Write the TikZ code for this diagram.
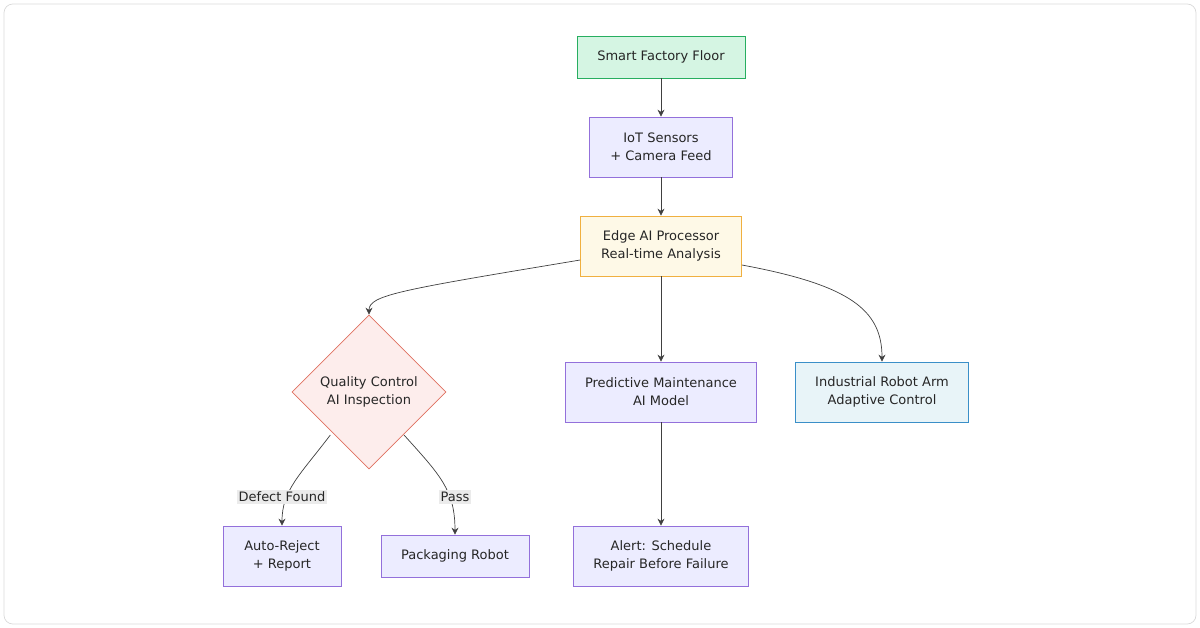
\documentclass[tikz,border=0pt]{standalone}
\usepackage{fontspec}
\setmainfont{DejaVu Sans}
\usetikzlibrary{shapes.geometric,arrows.meta}
\definecolor{purplefill}{HTML}{ECECFF}
\definecolor{purpleline}{HTML}{9370DB}
\definecolor{greenfill}{HTML}{D5F5E3}
\definecolor{greenline}{HTML}{27AE60}
\definecolor{yellowfill}{HTML}{FEF9E7}
\definecolor{yellowline}{HTML}{F0B040}
\definecolor{redfill}{HTML}{FDEDEC}
\definecolor{redline}{HTML}{E07060}
\definecolor{bluefill}{HTML}{E8F4F8}
\definecolor{blueline}{HTML}{3A8FC8}
\tikzset{
  box/.style={draw=purpleline,fill=purplefill,align=center,inner sep=0pt,
    font=\fontsize{7.4}{10.2}\selectfont,text=black!85},
  flow/.style={draw=black!75,-{Stealth[length=4pt,width=4pt]}},
  tag/.style={fill=black!8,inner sep=1pt,font=\fontsize{7.4}{9}\selectfont,text=black!85}
}
\begin{document}
\begin{tikzpicture}[x=0.02cm,y=-0.02cm]
            % Frame
            \useasboundingbox(0,0)rectangle(1200,628);
            \draw[black!15,rounded corners=5pt](4,4)rectangle(1196,624);
            % Nodes
            \node[box,draw=greenline,fill=greenfill,minimum width=168*0.02cm,minimum height=42*0.02cm](floor)at(661,57){Smart Factory Floor};
            \node[box,minimum width=143*0.02cm,minimum height=60*0.02cm](sensors)at(661,147){IoT Sensors\\+ Camera Feed};
            \node[box,draw=yellowline,fill=yellowfill,minimum width=161*0.02cm,minimum height=60*0.02cm](edge)at(661,246){Edge AI Processor\\Real-time Analysis};
            \node[box,diamond,draw=redline,fill=redfill,minimum width=154*0.02cm,minimum height=154*0.02cm](qc)at(369,392){Quality Control\\AI Inspection};
            \node[box,minimum width=191*0.02cm,minimum height=60*0.02cm](maint)at(661,392){Predictive Maintenance\\AI Model};
            \node[box,draw=blueline,fill=bluefill,minimum width=173*0.02cm,minimum height=60*0.02cm](arm)at(882,392){Industrial Robot Arm\\Adaptive Control};
            \node[box,minimum width=118*0.02cm,minimum height=60*0.02cm](reject)at(282,556){Auto-Reject\\+ Report};
            \node[box,minimum width=148*0.02cm,minimum height=42*0.02cm](pack)at(455,556){Packaging Robot};
            \node[box,minimum width=175*0.02cm,minimum height=60*0.02cm](alert)at(661,556){Alert: Schedule\\Repair Before Failure};
            % Connectors
            \draw[flow](floor)--(sensors);
            \draw[flow](sensors)--(edge);
            \draw[flow](edge)--(maint);
            \draw[flow](maint)--(alert);
            \draw[flow](edge.west|-580,260)..controls(400,290)and(369,295)..(qc.north);
            \draw[flow](edge.east|-742,265)..controls(850,285)and(882,310)..(arm.north);
            \draw[flow](qc.south west|-334,435)..controls(300,475)and(282,490)..(reject.north);
            \draw[flow](404,435)..controls(440,475)and(455,490)..(pack.north);
            \node[tag](defect)at(282,497){Defect Found};
            \node[tag](pass)at(455,497){Pass};
\end{tikzpicture}
\end{document}
